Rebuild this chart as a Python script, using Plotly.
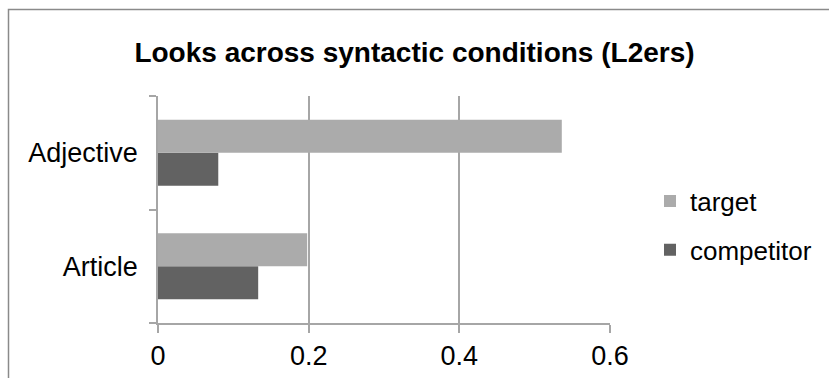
import plotly.graph_objects as go

categories = ["Article", "Adjective"]
target = [0.198, 0.536]
competitor = [0.133, 0.080]
x_ticks = [0, 0.2, 0.4, 0.6]
x_tick_labels = ["0", "0.2", "0.4", "0.6"]

FONT = "Liberation Sans, Arial, sans-serif"
W, H = 829, 378
ML, MR, MT, MB = 158, 219, 96, 55
pw = W - ML - MR
ph = H - MT - MB

fig = go.Figure()
fig.add_trace(go.Bar(
    y=categories, x=competitor, name="competitor", orientation="h",
    marker=dict(color="#626262", line=dict(width=0)), legendgroup="c", legendrank=2,
))
fig.add_trace(go.Bar(
    y=categories, x=target, name="target", orientation="h",
    marker=dict(color="#ababab", line=dict(width=0)), legendgroup="t", legendrank=1,
))

# chart-area border (only top and left visible in the frame)
fig.add_shape(type="rect", xref="paper", yref="paper",
              x0=(8.5 - ML) / pw, x1=(W + 40 - ML) / pw,
              y0=-(MB + 40) / ph, y1=(H - MB - 9.5) / ph,
              line=dict(color="#8a8a8a", width=1.5), fillcolor="rgba(0,0,0,0)",
              layer="below")

fig.update_layout(
    width=W, height=H,
    margin=dict(l=ML, r=MR, t=MT, b=MB, autoexpand=False),
    paper_bgcolor="white", plot_bgcolor="white",
    barmode="group", bargap=0.42, bargroupgap=0,
    font=dict(family=FONT, color="black", size=26),
    title=dict(text="<b>Looks across syntactic conditions (L2ers)</b>",
               x=0.5, xanchor="center", y=1 - 52 / H, yanchor="middle",
               font=dict(family=FONT, size=28, color="black")),
    showlegend=True,
    legend=dict(x=(650 - ML) / pw, xanchor="left", y=(H - MB - 225.5) / ph, yanchor="middle",
                traceorder="grouped", tracegroupgap=12,
                font=dict(family=FONT, size=26, color="black"),
                bgcolor="rgba(0,0,0,0)", itemwidth=30),
    xaxis=dict(range=[0, 0.6], tickvals=x_ticks, ticktext=x_tick_labels,
               showgrid=True, gridcolor="#a6a6a6", gridwidth=1.5,
               showline=True, linecolor="#a6a6a6", linewidth=1.5,
               ticks="outside", ticklen=8, tickcolor="#a6a6a6", tickwidth=1.5,
               zeroline=False, fixedrange=True,
               tickfont=dict(family=FONT, size=27, color="black")),
    yaxis=dict(categoryorder="array", categoryarray=categories,
               showgrid=False, showline=True, linecolor="#a6a6a6", linewidth=1.5,
               ticks="outside", ticklen=7, tickcolor="#a6a6a6", tickwidth=1.5,
               tickson="boundaries", ticklabelstandoff=13, zeroline=False,
               tickfont=dict(family=FONT, size=27, color="black")),
)

fig.write_html("out.html")
